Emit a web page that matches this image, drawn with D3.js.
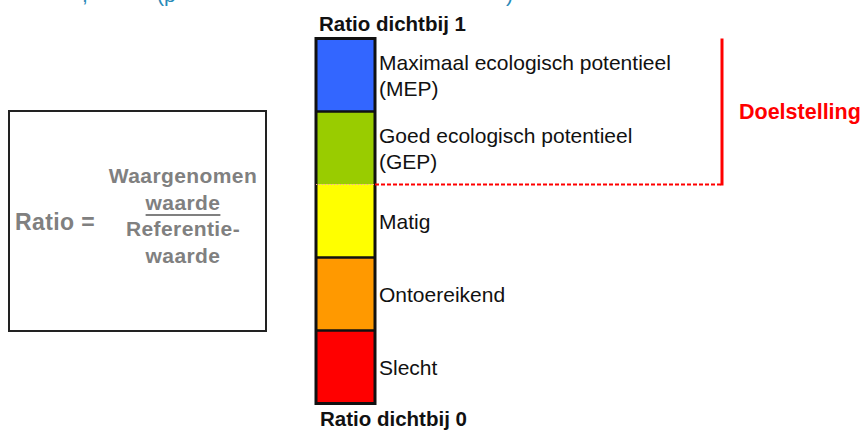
<!DOCTYPE html>
<html>
<head>
<meta charset="utf-8">
<script src="https://cdn.jsdelivr.net/npm/d3@7"></script>
<style>
  body { margin: 0; background: #fff; }
  text { font-family: "Liberation Sans", Arial, sans-serif; }
</style>
</head>
<body>
<svg id="chart" width="864" height="430"></svg>
<script>
// klassen van de maatlat, van boven (ratio 1) naar onder (ratio 0)
var classes = ["MEP", "GEP", "Matig", "Ontoereikend", "Slecht"];
var labels = [
  ["Maximaal ecologisch potentieel", "(MEP)"],
  ["Goed ecologisch potentieel", "(GEP)"],
  ["Matig"],
  ["Ontoereikend"],
  ["Slecht"]
];
var colors = ["#3366ff", "#99cc00", "#ffff00", "#ff9900", "#ff0000"];
var targetClasses = ["MEP", "GEP"];   // wat onder de doelstelling valt
var formulaTop = ["Waargenomen", "waarde"];
var formulaBottom = ["Referentie-", "waarde"];

var svg = d3.select("#chart");

var y = d3.scaleBand()
  .domain(classes)
  .range([38.5, 403.5])
  .paddingInner(0);

var barX = 316, barW = 59;

// afgesneden titel bovenaan
var title = svg.append("g").attr("fill", "#2a8ab8").style("font-size", "21px");
title.append("text").attr("x", 82).attr("y", 1.5).text(",");
title.append("text").attr("x", 157).attr("y", 1.5).text("(p");
title.append("text").attr("x", 506).attr("y", 1.5).text(")");

// segmenten
var seg = svg.selectAll(".seg")
  .data(classes)
  .enter().append("g")
    .attr("class", "seg");

seg.append("rect")
  .attr("x", barX)
  .attr("y", function(d) { return y(d); })
  .attr("width", barW)
  .attr("height", y.bandwidth())
  .attr("fill", function(d, i) { return colors[i]; });

// scheidingslijnen (niet tussen GEP en Matig)
var lastTarget = targetClasses[targetClasses.length - 1];
svg.selectAll(".sep")
  .data(classes.slice(1).filter(function(d, i) { return classes[i] != lastTarget; }))
  .enter().append("line")
    .attr("x1", barX).attr("x2", barX + barW)
    .attr("y1", function(d) { return y(d); })
    .attr("y2", function(d) { return y(d); })
    .attr("stroke", "#111").attr("stroke-width", 2.5);

svg.append("rect")
  .attr("x", barX).attr("y", y.range()[0])
  .attr("width", barW).attr("height", y.range()[1] - y.range()[0])
  .attr("fill", "none").attr("stroke", "#111").attr("stroke-width", 3);

// labels
seg.each(function(d, i) {
  var lines = labels[i];
  var cy = y(d) + y.bandwidth() / 2;
  var lh = 26;
  var t = d3.select(this).append("text")
    .attr("fill", "#111")
    .style("font-size", "21px");
  lines.forEach(function(l, j) {
    t.append("tspan")
      .attr("x", barX + barW + 4)
      .attr("y", cy + (j - (lines.length - 1) / 2) * lh)
      .attr("dy", "0.36em")
      .text(l);
  });
});

svg.append("text")
  .attr("x", 319).attr("y", 31)
  .attr("font-weight", "bold").style("font-size", "20.5px").attr("fill", "#111")
  .text("Ratio dichtbij 1");
svg.append("text")
  .attr("x", 320).attr("y", 426)
  .attr("font-weight", "bold").style("font-size", "20.5px").attr("fill", "#111")
  .text("Ratio dichtbij 0");

// doelstelling
var goalY = y(lastTarget) + y.bandwidth();
var goalX = 722;
svg.append("line")
  .attr("x1", barX + barW).attr("x2", goalX)
  .attr("y1", goalY).attr("y2", goalY)
  .attr("stroke", "#ff0000").attr("stroke-width", 2)
  .attr("stroke-dasharray", "4,2");
svg.append("line")
  .attr("x1", barX).attr("x2", barX + barW)
  .attr("y1", goalY).attr("y2", goalY)
  .attr("stroke", "#ff9999").attr("stroke-width", 1)
  .attr("stroke-dasharray", "1,2");
svg.append("line")
  .attr("x1", goalX).attr("x2", goalX)
  .attr("y1", y(targetClasses[0])).attr("y2", goalY + 1)
  .attr("stroke", "#ff0000").attr("stroke-width", 3);
svg.append("text")
  .attr("x", 739).attr("y", (y(targetClasses[0]) + goalY) / 2)
  .attr("dy", "0.36em")
  .attr("font-weight", "bold").style("font-size", "21.5px").attr("fill", "#ff0000")
  .text("Doelstelling");

// formule-kader
svg.append("rect")
  .attr("x", 9).attr("y", 111).attr("width", 257).attr("height", 220)
  .attr("fill", "none").attr("stroke", "#222").attr("stroke-width", 2);

var f = svg.append("g").attr("fill", "#808080").attr("font-weight", "bold")
  .style("font-size", "21px").style("letter-spacing", "0.4px");
f.append("text").attr("x", 15).attr("y", 230).style("font-size", "23px").text("Ratio =");
var fx = 183;
var fLines = formulaTop.concat(formulaBottom);
var ft = f.selectAll(".fl")
  .data(fLines)
  .enter().append("text")
    .attr("class", "fl")
    .attr("x", fx).attr("y", function(d, j) { return 183 + j * 26.5; })
    .attr("text-anchor", "middle")
    .text(function(d) { return d; });
var uw = ft.nodes()[formulaTop.length - 1].getComputedTextLength();
f.append("line")
  .attr("x1", fx - uw / 2).attr("x2", fx + uw / 2)
  .attr("y1", 215).attr("y2", 215)
  .attr("stroke", "#808080").attr("stroke-width", 2);
</script>
</body>
</html>
